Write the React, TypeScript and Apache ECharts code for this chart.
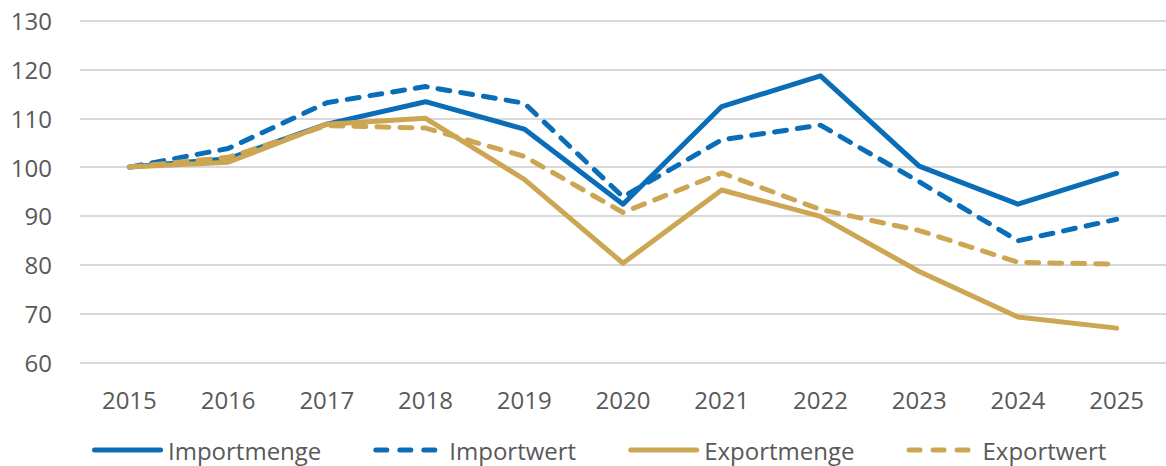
import React, { useEffect, useRef } from "react";
import * as echarts from "echarts";

const years = ["2015", "2016", "2017", "2018", "2019", "2020", "2021", "2022", "2023", "2024", "2025"];
const importmenge = [100, 101.7, 108.8, 113.4, 107.8, 92.4, 112.4, 118.7, 100.2, 92.4, 98.7];
const importwert = [100, 103.8, 113.2, 116.5, 113.1, 93.9, 105.6, 108.6, 97.0, 84.9, 89.3];
const exportmenge = [100, 101.0, 108.8, 110.0, 97.5, 80.3, 95.3, 89.9, 78.6, 69.3, 67.0];
const exportwert = [100, 102.0, 108.5, 108.0, 102.2, 90.7, 98.8, 91.3, 87.0, 80.5, 80.1];

const BLUE = "#0A6DB7";
const GOLD = "#CCA652";
const FONT = "'Open Sans', sans-serif";
const TEXT = "#595959";

const SOLID_ICON = "path://M2.5,0H68.5A2.5,2.5,0,0,1,68.5,5H2.5A2.5,2.5,0,0,1,2.5,0Z";
const DASH_ICON =
  "path://M2.5,0H13.5A2.5,2.5,0,0,1,13.5,5H2.5A2.5,2.5,0,0,1,2.5,0Z" +
  "M26.5,0H37.5A2.5,2.5,0,0,1,37.5,5H26.5A2.5,2.5,0,0,1,26.5,0Z" +
  "M50.5,0H61.5A2.5,2.5,0,0,1,61.5,5H50.5A2.5,2.5,0,0,1,50.5,0Z" +
  "M71,2.5L71,2.5Z";

export default function App() {
  const ref = useRef<HTMLDivElement>(null);
  useEffect(() => {
    document.body.style.margin = "0";
    const chart = echarts.init(ref.current!, null, { renderer: "svg" });
    const mk = (name: string, data: number[], color: string, dashed: boolean) => ({
      name,
      type: "line",
      data,
      symbol: "none",
      showSymbol: false,
      lineStyle: {
        color,
        width: 5,
        type: dashed ? [12, 11] : "solid",
        cap: "round",
        join: "round",
      },
      itemStyle: { color },
    });
    chart.setOption({
      animation: false,
      textStyle: { fontFamily: FONT },
      grid: { left: 80, right: -5, top: 20.7, bottom: 103.7, containLabel: false },
      xAxis: {
        type: "category",
        data: years,
        boundaryGap: true,
        axisLine: { show: false },
        axisTick: { show: false },
        axisLabel: { color: TEXT, fontSize: 24, fontFamily: FONT, margin: 25 },
        splitLine: { show: false },
      },
      yAxis: {
        type: "value",
        min: 60,
        max: 130,
        interval: 10,
        axisLine: { show: false },
        axisTick: { show: false },
        axisLabel: { color: TEXT, fontSize: 24, fontFamily: FONT, margin: 28 },
        splitLine: { lineStyle: { color: "#D9D9D9", width: 2 } },
      },
      legend: {
        left: 87,
        top: 431,
        itemWidth: 71,
        itemHeight: 5,
        itemGap: 52,
        textStyle: { color: TEXT, fontSize: 24, fontFamily: FONT, lineHeight: 28 },
        data: [
          { name: "Importmenge", icon: SOLID_ICON, itemStyle: { color: BLUE } },
          { name: "Importwert", icon: DASH_ICON, itemStyle: { color: BLUE } },
          { name: "Exportmenge", icon: SOLID_ICON, itemStyle: { color: GOLD } },
          { name: "Exportwert", icon: DASH_ICON, itemStyle: { color: GOLD } },
        ],
      },
      series: [
        mk("Importmenge", importmenge, BLUE, false),
        mk("Importwert", importwert, BLUE, true),
        mk("Exportmenge", exportmenge, GOLD, false),
        mk("Exportwert", exportwert, GOLD, true),
      ],
    });
    return () => chart.dispose();
  }, []);
  return <div ref={ref} style={{ width: 1166, height: 466 }} />;
}
